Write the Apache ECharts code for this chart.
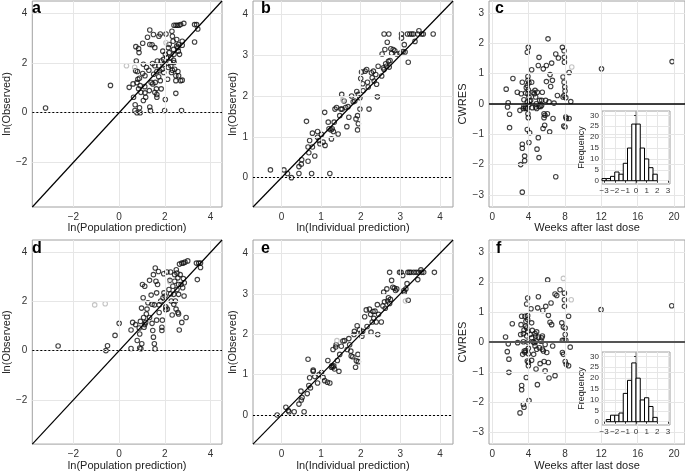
<!DOCTYPE html>
<html><head><meta charset="utf-8">
<script src="https://cdn.jsdelivr.net/npm/echarts@6/dist/echarts.min.js"></script>
<style>html,body{margin:0;padding:0;background:#fff}#c{width:685px;height:472px}</style>
</head><body><div id="c"></div>
<script>
// ---------- DATA ----------
const popRange = [-3.8, 4.5];
const indRange = [-0.72, 4.33];
const weekRange = [-0.35, 21.2];
const cwresRange = [-3.4, 3.4];
const popTicks = [-2, 0, 2, 4];
const obsTicksA = [-2, 0, 2, 4];
const indTicks = [0, 1, 2, 3, 4];
const weekTicks = [0, 4, 8, 12, 16, 20];
const cwresTicks = [-3, -2, -1, 0, 1, 2, 3];
const histXTicks = [-3, -2, -1, 0, 1, 2, 3];
const histYTicks = [0, 5, 10, 15, 20, 25, 30];

const aPts = [[-3.22,0.19],[-0.38,1.10],[0.44,1.02],[0.61,1.16],[0.63,0.62],[0.70,0.32],[0.69,0.09],[0.78,0.0],[0.73,2.66],[0.85,2.58],[0.87,2.42],[0.75,2.08],[0.72,1.69],[0.80,1.66],[0.82,1.35],[0.89,1.39],[0.78,1.21],[0.92,1.09],[0.85,0.96],[0.95,0.82],[0.89,0.20],[0.92,0.0],[1.03,2.80],[1.06,1.95],[1.12,1.05],[1.06,0.49],[1.16,0.62],[1.24,3.04],[1.34,3.33],[1.34,2.75],[1.30,1.71],[1.34,0.23],[1.37,0.09],[1.44,2.74],[1.50,3.15],[1.56,2.62],[1.56,1.89],[1.51,1.55],[1.58,1.22],[1.63,0.96],[1.56,0.82],[1.65,0.73],[1.74,3.08],[1.80,3.17],[1.67,2.08],[1.74,1.89],[1.77,1.69],[1.73,1.45],[1.80,1.29],[1.84,0.96],[1.65,0.62],[1.91,2.48],[1.94,2.15],[1.98,1.95],[2.02,2.35],[2.05,3.17],[2.02,0.53],[1.99,0.09],[2.12,1.35],[2.15,2.62],[2.19,2.75],[2.22,2.02],[2.26,2.22],[2.31,3.28],[2.33,3.08],[2.36,2.88],[2.38,2.55],[2.40,2.35],[2.38,2.11],[2.40,2.02],[2.43,1.75],[2.48,1.49],[2.48,1.29],[2.48,0.78],[2.40,3.52],[2.48,3.52],[2.55,3.52],[2.62,3.52],[2.69,3.55],[2.83,3.60],[2.52,2.95],[2.52,2.68],[2.57,2.62],[2.59,2.48],[2.60,2.75],[2.64,2.35],[2.57,1.66],[2.60,1.49],[2.69,1.29],[2.76,1.31],[2.73,0.09],[2.76,2.88],[2.76,2.72],[3.30,3.55],[3.39,3.55],[3.44,3.37],[3.30,2.85],[2.19,2.42],[2.08,2.22],[2.15,1.82],[2.26,1.89],[2.29,1.62],[2.33,1.71],[1.84,2.08],[1.88,1.75],[1.95,1.62],[1.65,1.66],[1.46,1.98],[1.20,1.82],[1.03,1.58],[1.13,1.49],[1.47,1.16],[1.32,0.89],[1.13,0.80],[1.40,1.22]];
const aGrey = [[0.32,1.89],[0.68,1.83],[2.05,2.82]];

const bPts = [[-0.28,0.19],[0.06,0.19],[0.15,0.10],[0.25,0.0],[0.44,0.27],[0.50,0.33],[0.44,0.10],[0.76,0.10],[1.22,0.10],[0.63,1.38],[0.67,0.75],[0.71,0.91],[0.69,0.61],[0.67,0.40],[0.84,0.53],[0.78,1.09],[0.91,1.13],[0.91,0.99],[0.95,0.91],[0.97,0.83],[1.01,1.06],[1.05,0.87],[1.10,0.79],[1.09,1.60],[1.18,1.36],[1.20,1.20],[1.25,1.17],[1.28,1.20],[1.31,1.13],[1.26,0.95],[1.33,1.36],[1.35,1.68],[1.39,1.72],[1.43,1.07],[1.47,1.52],[1.50,1.68],[1.52,2.04],[1.53,1.68],[1.58,1.88],[1.62,1.72],[1.65,1.25],[1.68,1.74],[1.70,1.48],[1.77,2.00],[1.81,1.86],[1.85,1.88],[1.88,1.44],[1.92,1.52],[1.92,1.17],[1.94,1.32],[1.90,2.11],[1.94,2.04],[1.98,1.96],[2.00,2.43],[2.02,2.59],[2.05,2.30],[2.06,2.13],[2.11,2.61],[2.15,2.65],[2.17,2.34],[2.19,2.22],[1.98,1.68],[2.21,1.68],[2.27,2.57],[2.29,2.45],[2.32,2.61],[2.34,2.37],[2.38,2.53],[2.40,2.29],[2.42,1.98],[2.44,2.73],[2.53,2.49],[2.54,3.03],[2.57,2.69],[2.59,2.65],[2.61,3.14],[2.63,2.79],[2.65,2.73],[2.59,3.52],[2.71,3.52],[2.67,3.32],[2.70,2.85],[2.72,2.71],[2.74,2.87],[2.76,3.16],[2.78,3.05],[2.82,3.14],[2.86,3.11],[2.91,3.03],[2.99,3.05],[3.03,3.52],[3.03,3.42],[3.07,3.09],[3.10,3.26],[3.12,3.08],[3.20,2.83],[3.18,3.52],[3.24,3.52],[3.29,3.52],[3.33,3.52],[3.37,3.34],[3.44,3.52],[3.47,3.60],[3.54,3.52],[3.58,3.52],[3.83,3.52],[0.51,0.44],[0.78,0.75]];
const bGrey = [[1.55,1.90]];

const cPts = [[1.54,0.49],[1.76,0.04],[1.69,-0.10],[1.91,-0.34],[1.91,-0.78],[2.28,0.84],[3.13,-2.00],[3.31,-2.91],[3.31,-1.33],[3.31,-1.46],[3.57,-1.72],[3.57,-1.87],[3.31,0.72],[3.20,0.34],[3.49,0.14],[3.42,-0.15],[3.68,-0.10],[3.75,0.54],[3.86,1.71],[3.97,1.87],[3.93,0.91],[3.93,0.78],[4.04,0.70],[3.97,0.47],[3.93,0.34],[4.04,0.23],[3.86,0.07],[4.04,-0.01],[3.86,-0.15],[3.93,-0.32],[3.97,-0.45],[3.86,-0.84],[4.12,-0.95],[4.04,-1.27],[4.34,1.13],[4.34,0.72],[4.41,-0.12],[4.49,0.39],[4.71,0.45],[4.78,0.23],[4.96,0.39],[4.89,-0.15],[4.93,-1.49],[5.07,1.27],[5.15,1.54],[5.07,-1.11],[5.15,-1.77],[5.22,0.12],[5.33,-0.08],[5.44,-0.04],[5.51,0.39],[5.62,1.16],[5.59,-0.81],[5.70,-0.45],[5.77,-0.70],[5.81,-0.37],[5.88,0.12],[5.96,1.27],[5.96,0.74],[6.07,-0.32],[6.14,2.15],[6.25,0.07],[6.32,-0.92],[6.36,0.97],[6.43,0.58],[6.54,1.35],[6.62,0.78],[6.69,-0.48],[6.80,0.03],[6.99,1.65],[6.99,-2.40],[7.17,0.28],[7.28,1.52],[7.72,1.87],[7.79,0.89],[7.79,0.23],[7.90,1.76],[7.94,1.54],[7.94,1.38],[7.90,0.72],[7.98,0.56],[8.01,0.43],[7.90,0.28],[8.09,0.21],[8.09,-0.43],[8.01,-0.76],[7.87,-0.73],[8.16,-0.48],[8.46,1.04],[8.46,-0.48],[8.64,0.08],[12.02,1.16],[19.78,1.40],[2.76,0.39],[3.68,0.36],[4.63,0.34],[4.85,0.01],[5.15,-0.08],[5.44,0.12],[4.78,-0.10],[3.49,-0.08],[3.68,-0.15],[5.70,-0.32],[3.86,0.61],[4.12,0.10],[3.05,-0.21],[4.23,0.12]];
const cGrey = [[8.75,1.22]];

const dPts = [[-2.67,0.19],[-0.58,0.0],[-0.51,0.20],[-0.18,0.62],[0.0,1.11],[0.52,0.09],[0.52,0.84],[0.59,1.15],[0.72,1.06],[0.79,0.41],[0.88,0.92],[0.90,0.68],[0.90,0.11],[0.95,0.08],[0.99,0.28],[0.93,1.19],[0.98,1.73],[1.02,2.69],[1.12,2.62],[1.05,2.15],[1.07,1.35],[1.12,1.06],[1.16,1.15],[1.09,0.95],[1.19,1.49],[1.26,1.95],[1.33,2.86],[1.40,2.26],[1.44,1.89],[1.44,1.11],[1.47,0.82],[1.50,0.55],[1.54,0.28],[1.57,0.08],[1.50,3.09],[1.58,3.36],[1.61,2.82],[1.64,1.24],[1.68,2.69],[1.72,3.22],[1.75,1.55],[1.82,2.02],[1.87,0.95],[1.87,0.82],[1.89,1.24],[1.92,2.15],[1.95,3.13],[2.01,2.22],[2.04,1.66],[2.04,1.78],[1.96,2.35],[2.09,3.20],[2.18,2.49],[2.22,2.86],[2.25,3.20],[2.28,2.02],[2.32,1.45],[2.35,2.62],[2.39,2.29],[2.43,2.82],[2.46,2.02],[2.49,1.69],[2.50,3.29],[2.53,3.16],[2.53,2.49],[2.57,1.55],[2.60,1.49],[2.60,2.29],[2.63,0.84],[2.64,3.52],[2.74,3.56],[2.81,3.56],[2.88,3.60],[3.00,3.65],[2.67,3.09],[2.71,2.69],[2.74,1.15],[2.78,2.56],[2.81,2.93],[2.85,2.76],[2.93,1.35],[2.84,2.22],[3.42,2.89],[3.38,3.56],[3.48,3.56],[3.56,3.56],[3.56,3.38],[2.11,1.69],[2.39,1.89],[2.25,2.31],[1.64,2.35],[1.75,1.86],[1.54,1.86],[1.33,1.35],[1.22,1.69],[2.60,2.69],[2.43,3.09],[2.57,2.96]];
const dGrey = [[-1.07,1.86],[-0.61,1.91],[2.22,2.80]];

const ePts = [[-0.11,0.0],[0.11,0.19],[0.17,0.11],[0.19,0.08],[0.32,0.08],[0.44,0.27],[0.50,0.37],[0.49,0.59],[0.57,0.08],[0.52,0.43],[0.67,1.38],[0.65,0.53],[0.69,0.73],[0.73,0.67],[0.71,0.92],[0.80,1.11],[0.80,1.08],[0.84,0.95],[0.91,0.79],[0.95,1.00],[1.01,1.05],[1.05,0.93],[1.09,0.85],[1.16,0.81],[1.22,0.79],[1.17,1.35],[1.26,1.18],[1.30,1.19],[1.32,1.22],[1.34,1.14],[1.27,1.22],[1.30,1.62],[1.37,1.68],[1.38,1.74],[1.41,1.35],[1.45,1.08],[1.47,1.50],[1.51,1.70],[1.55,1.83],[1.59,1.84],[1.66,1.62],[1.70,1.89],[1.72,1.74],[1.75,1.58],[1.76,1.46],[1.80,1.44],[1.83,1.99],[1.84,2.07],[1.87,1.18],[1.89,1.34],[1.91,2.21],[1.93,1.50],[1.94,1.32],[1.97,2.11],[2.01,2.03],[2.03,1.95],[2.05,2.07],[2.10,2.43],[2.14,2.60],[2.16,2.19],[2.22,2.62],[2.25,2.49],[2.29,2.30],[2.26,2.05],[2.31,2.56],[2.33,2.39],[2.36,2.57],[2.39,2.30],[2.43,1.99],[2.42,2.73],[2.45,2.49],[2.52,2.30],[2.56,2.70],[2.58,3.04],[2.60,2.80],[2.62,2.64],[2.66,3.12],[2.68,2.82],[2.70,2.90],[2.73,2.76],[2.75,2.86],[2.78,3.33],[2.81,3.16],[2.85,3.14],[2.88,3.08],[2.91,3.12],[2.73,3.53],[2.98,3.53],[3.02,3.53],[3.06,3.45],[3.09,3.08],[3.10,3.04],[3.14,3.12],[3.17,3.25],[3.20,2.84],[3.19,3.53],[3.23,3.53],[3.27,3.53],[3.34,3.53],[3.40,3.53],[3.44,3.35],[3.46,3.53],[3.52,3.59],[3.54,3.53],[3.59,3.53],[3.86,3.53]];
const eGrey = [[1.40,1.84],[3.13,2.82]];

const fPts = [[1.47,0.17],[1.66,-0.32],[1.77,-0.06],[1.84,-0.57],[1.84,-1.01],[2.21,0.61],[3.06,-2.36],[3.24,-1.45],[3.24,-1.59],[3.43,-2.08],[3.50,-2.17],[3.24,0.86],[3.13,0.25],[3.17,0.58],[3.43,0.28],[3.43,0.01],[3.53,-0.30],[3.60,-0.35],[3.35,-0.41],[3.60,0.86],[3.71,0.69],[3.79,1.27],[3.90,1.47],[3.79,0.47],[3.90,0.36],[3.79,0.20],[3.90,0.0],[3.98,-0.21],[3.71,-0.28],[3.98,-0.39],[3.86,-0.63],[3.98,-0.67],[3.75,-1.18],[4.05,-1.95],[3.90,0.75],[3.90,0.88],[4.27,1.11],[4.34,0.64],[4.41,0.39],[4.49,0.01],[4.56,-0.41],[4.71,0.28],[4.78,0.20],[4.89,0.34],[4.82,0.03],[4.71,-0.13],[4.82,-0.90],[4.97,-1.42],[5.08,1.51],[5.00,1.14],[5.08,0.17],[5.19,-0.19],[5.27,-0.72],[5.45,0.14],[5.52,0.20],[5.56,1.05],[5.63,-0.30],[5.71,-0.65],[5.82,-0.96],[5.82,-0.08],[5.89,1.19],[6.00,-0.35],[6.10,2.07],[6.18,-0.68],[6.18,0.89],[6.25,-1.20],[6.36,0.66],[6.47,1.30],[6.54,0.58],[6.65,-0.13],[6.91,-1.12],[6.91,1.60],[7.10,1.55],[7.46,1.74],[7.65,0.64],[7.72,0.06],[7.72,-0.35],[7.83,-0.41],[7.83,0.50],[7.94,1.63],[7.94,1.41],[7.94,1.19],[8.03,0.47],[8.03,0.25],[7.90,0.06],[8.10,0.06],[8.03,-0.65],[8.14,-0.74],[8.40,0.86],[8.40,-0.79],[8.58,-0.17],[11.97,1.08],[19.74,1.21],[3.50,0.40],[4.16,0.25],[4.34,0.14],[4.63,-0.02],[4.89,-0.24],[5.37,0.03],[5.52,-0.24],[3.68,0.53],[2.80,-0.02],[3.98,-0.79],[4.34,-0.61]];
const fGrey = [[7.83,2.12],[8.69,1.41]];

const cBinLo = [-3.2,-2.8,-2.4,-2.0,-1.6,-1.2,-0.8,-0.4,0.0,0.4,0.8,1.2,1.6];
const cCounts = [1,1,2,4,3,8,15,26,26,15,10,6,3];
const fBinLo = [-2.8,-2.4,-2.0,-1.6,-1.2,-0.8,-0.4,0.0,0.4,0.8,1.2,1.6];
const fCounts = [1,3,3,4,13,19,27,20,10,11,7,2];
const binWidth = 0.4;
const histYRange = [-1.5, 32];
const histXRange = [-3.2, 3.2];

// ---------- CHART ----------
const FONT = '"Liberation Sans", Arial, sans-serif';
const chart = echarts.init(document.getElementById('c'), null, {renderer: 'canvas'});
const minus = v => String(v).replace('-', '\u2212');

function grid(l, t, w, h, z) {
  return {left: l, top: t, width: w, height: h, show: true, borderColor: '#a0a0a0', borderWidth: 1,
          backgroundColor: '#fff', containLabel: false, z: z || 0};
}
function axis(gi, range, ticks, name, gap, small, z) {
  const fs = small ? 8 : 10;
  return {
    type: 'value', gridIndex: gi, min: range[0], max: range[1], z: z || 0,
    axisLine: {show: false},
    axisTick: {show: true, length: small ? 2 : 3, lineStyle: {color: '#333', width: 1}, customValues: ticks},
    axisLabel: {customValues: ticks, color: '#333', fontSize: fs, fontFamily: FONT, margin: small ? 3 : 5, formatter: minus},
    splitLine: {show: false},
    name: name, nameLocation: 'middle', nameGap: gap,
    nameTextStyle: {color: '#222', fontSize: small ? 9 : 11, fontFamily: FONT}
  };
}
// grid lines drawn through the axes' own scales
function gridLines(i, xt, yt, z) {
  return {type: 'line', xAxisIndex: i, yAxisIndex: i, data: [], silent: true, z: z,
    markLine: {silent: true, symbol: 'none', label: {show: false}, animation: false,
      lineStyle: {color: '#e6e6e6', width: 1, type: 'solid'},
      data: xt.map(v => ({xAxis: v})).concat(yt.map(v => ({yAxis: v})))}};
}

const grids = [
  grid(25, 1, 197, 206), grid(253, 1, 200, 206), grid(489, 1, 197, 206),
  grid(25, 240, 197, 207), grid(253, 240, 200, 207), grid(489, 240, 197, 207),
  grid(602, 111, 68, 73, 5), grid(602, 352, 68, 73, 5)
];
const xAxes = [
  axis(0, popRange, popTicks, 'ln(Population prediction)', 14),
  axis(1, indRange, indTicks, 'ln(Individual prediction)', 14),
  axis(2, weekRange, weekTicks, 'Weeks after last dose', 14),
  axis(3, popRange, popTicks, 'ln(Population prediction)', 14),
  axis(4, indRange, indTicks, 'ln(Individual prediction)', 14),
  axis(5, weekRange, weekTicks, 'Weeks after last dose', 14),
  axis(6, histXRange, histXTicks, '', 10, true, 5),
  axis(7, histXRange, histXTicks, '', 10, true, 5)
];
const yAxes = [
  axis(0, popRange, obsTicksA, 'ln(Observed)', 12),
  axis(1, indRange, indTicks, 'ln(Observed)', 12),
  axis(2, cwresRange, cwresTicks, 'CWRES', 14),
  axis(3, popRange, obsTicksA, 'ln(Observed)', 12),
  axis(4, indRange, indTicks, 'ln(Observed)', 12),
  axis(5, cwresRange, cwresTicks, 'CWRES', 14),
  axis(6, histYRange, histYTicks, 'Frequency', 13, true, 5),
  axis(7, histYRange, histYTicks, 'Frequency', 13, true, 5)
];

function pts(i, data, color) {
  return {type: 'scatter', xAxisIndex: i, yAxisIndex: i, data: data, symbol: 'circle', symbolSize: 4.5,
          itemStyle: {color: 'rgba(0,0,0,0)', borderColor: color, borderWidth: 1.1}, z: 3, silent: true,
          animation: false};
}
function refLines(i, range, diag, zeroStyle) {
  const data = [];
  if (diag) data.push([{coord: [range[0], range[0]]}, {coord: [range[1], range[1]]}]);
  return [
    {type: 'line', xAxisIndex: i, yAxisIndex: i, data: [], silent: true, z: 4,
     markLine: {silent: true, symbol: 'none', label: {show: false}, animation: false,
       data: [{yAxis: 0, lineStyle: zeroStyle}],
     }},
    diag ? {type: 'line', xAxisIndex: i, yAxisIndex: i, data: [], silent: true, z: 4,
     markLine: {silent: true, symbol: 'none', label: {show: false}, animation: false,
       lineStyle: {color: '#000', width: 1.2, type: 'solid'}, data: data}} : null
  ].filter(Boolean);
}
function hist(i, lo, counts) {
  return [{
    type: 'custom', xAxisIndex: i, yAxisIndex: i, z: 6, silent: true, animation: false,
    data: lo.map((v, k) => [v, v + binWidth, counts[k]]),
    encode: {x: [0, 1], y: 2},
    renderItem: function (params, api) {
      const p0 = api.coord([api.value(0), 0]);
      const p1 = api.coord([api.value(1), api.value(2)]);
      return {type: 'rect', shape: {x: p0[0], y: p1[1], width: p1[0] - p0[0], height: p0[1] - p1[1]},
              style: {fill: '#fff', stroke: '#000', lineWidth: 1}};
    }
  }, {
    type: 'line', xAxisIndex: i, yAxisIndex: i, data: [], z: 7, silent: true,
    markLine: {silent: true, symbol: 'none', label: {show: false}, animation: false,
      lineStyle: {color: '#a8a8a8', width: 1.5, type: 'solid'}, data: [{xAxis: 0}]}
  }];
}

const dotted = {color: '#000', width: 1, type: [2, 2]};
const series = [].concat(
  [gridLines(0, popTicks, obsTicksA, 1), gridLines(1, indTicks, indTicks, 1), gridLines(2, weekTicks, cwresTicks, 1),
   gridLines(3, popTicks, obsTicksA, 1), gridLines(4, indTicks, indTicks, 1), gridLines(5, weekTicks, cwresTicks, 1),
   gridLines(6, histXTicks, histYTicks, 5), gridLines(7, histXTicks, histYTicks, 5)],
  refLines(0, popRange, true, dotted), [pts(0, aPts, '#111'), pts(0, aGrey, '#b5b5b5')],
  refLines(1, indRange, true, dotted), [pts(1, bPts, '#111'), pts(1, bGrey, '#b5b5b5')],
  refLines(2, weekRange, false, {color: '#000', width: 1.5, type: 'solid'}), [pts(2, cPts, '#111'), pts(2, cGrey, '#b5b5b5')],
  refLines(3, popRange, true, dotted), [pts(3, dPts, '#111'), pts(3, dGrey, '#b5b5b5')],
  refLines(4, indRange, true, dotted), [pts(4, ePts, '#111'), pts(4, eGrey, '#b5b5b5')],
  refLines(5, weekRange, false, {color: '#555', width: 2, type: 'solid'}), [pts(5, fPts, '#111'), pts(5, fGrey, '#b5b5b5')],
  hist(6, cBinLo, cCounts), hist(7, fBinLo, fCounts)
);

const letter = (t, x, y) => ({type: 'text', left: x, top: y, z: 100,
  style: {text: t, font: 'bold 16px "Liberation Sans", Arial, sans-serif', fill: '#000'}});

chart.setOption({
  animation: false,
  backgroundColor: '#fff',
  grid: grids, xAxis: xAxes, yAxis: yAxes, series: series,
  graphic: [letter('a', 32, 1), letter('b', 261, 1), letter('c', 495, 1),
            letter('d', 32, 241), letter('e', 261, 241), letter('f', 496, 241)]
});
</script></body></html>
